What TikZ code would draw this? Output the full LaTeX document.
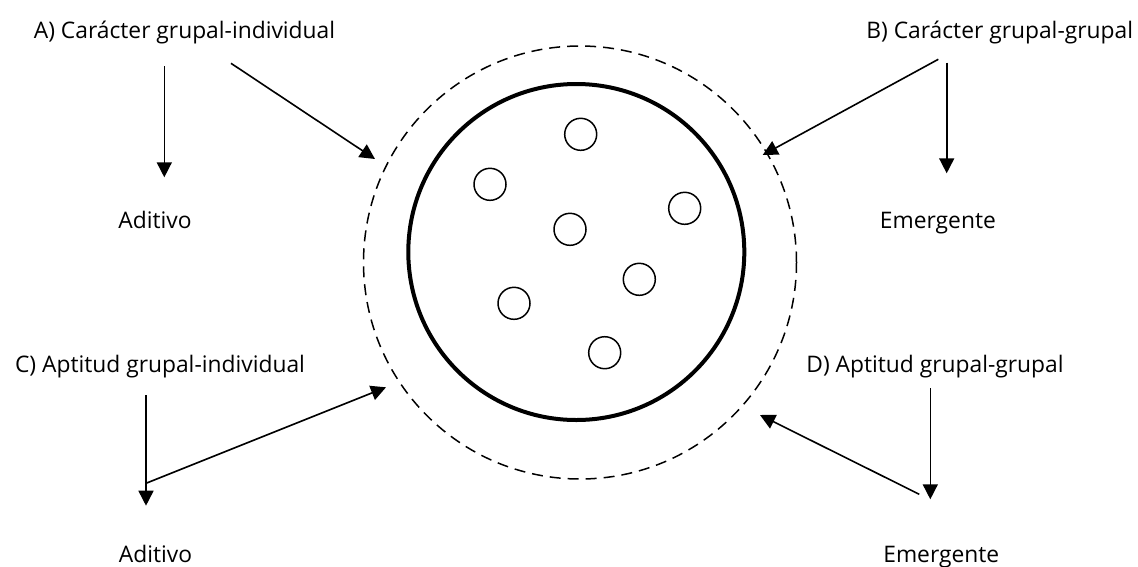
\documentclass[tikz,border=0pt]{standalone}
\usepackage{fontspec}
\setmainfont{Open Sans}
\usetikzlibrary{arrows.meta}
\begin{document}
\begin{tikzpicture}[x=1pt,y=-1pt,
  lbl/.style={anchor=base,inner sep=0pt,font=\fontsize{22.8}{26}\selectfont},
  arr/.style={line width=1.6pt,-{Triangle[length=15pt,width=15pt]}},
  dot/.style={circle,draw,line width=1.5pt,minimum size=32pt,inner sep=0pt}]
\useasboundingbox[fill=white] (0,0) rectangle (1138,566);
% circles
\node[circle,draw,dash pattern=on 11pt off 7pt,line width=1.5pt,minimum size=433pt,inner sep=0pt] (outer) at (580,262.5) {};
\node[circle,draw,line width=4pt,minimum size=336pt,inner sep=0pt] (inner) at (576.3,252) {};
\node[dot] (p1) at (580.7,134.3) {};
\node[dot] (p2) at (490,184.3) {};
\node[dot] (p3) at (684.7,208.3) {};
\node[dot] (p4) at (570,229.3) {};
\node[dot] (p5) at (639.3,279.3) {};
\node[dot] (p6) at (514,303.3) {};
\node[dot] (p7) at (604.7,352.7) {};
% labels
\node[lbl] (A) at (184.5,38) {A) Carácter grupal-individual};
\node[lbl] (B) at (999.7,38.3) {B) Carácter grupal-grupal};
\node[lbl] (Aad) at (155,228.3) {Aditivo};
\node[lbl] (Bem) at (937.9,228.3) {Emergente};
\node[lbl] (C) at (160,372.3) {C) Aptitud grupal-individual};
\node[lbl] (D) at (935,372.3) {D) Aptitud grupal-grupal};
\node[lbl] (Cad) at (155.5,562.7) {Aditivo};
\node[lbl] (Dem) at (941.3,562) {Emergente};
% arrow coordinates
\coordinate (a1s) at (164.3,66);   \coordinate (a1e) at (164.3,177.3);
\coordinate (a2s) at (231,63.3);   \coordinate (a2e) at (375,159);
\coordinate (b1s) at (946.7,62.7); \coordinate (b1e) at (946.7,173.3);
\coordinate (b2s) at (938.3,59.3); \coordinate (b2e) at (762.7,155);
\coordinate (c1s) at (146,395);    \coordinate (c1e) at (146,505.7);
\coordinate (c2s) at (146,483.3);  \coordinate (c2e) at (386,387.3);
\coordinate (d1s) at (930.3,388.3);\coordinate (d1e) at (930.3,499.3);
\coordinate (d2s) at (919.3,494.3);\coordinate (d2e) at (760,415);
\draw[arr] (a1s) -- (a1e);
\draw[arr] (a2s) -- (a2e);
\draw[arr] (b1s) -- (b1e);
\draw[arr] (b2s) -- (b2e);
\draw[arr] (c1s) -- (c1e);
\draw[arr] (c2s) -- (c2e);
\draw[arr] (d1s) -- (d1e);
\draw[arr] (d2s) -- (d2e);
\end{tikzpicture}
\end{document}
